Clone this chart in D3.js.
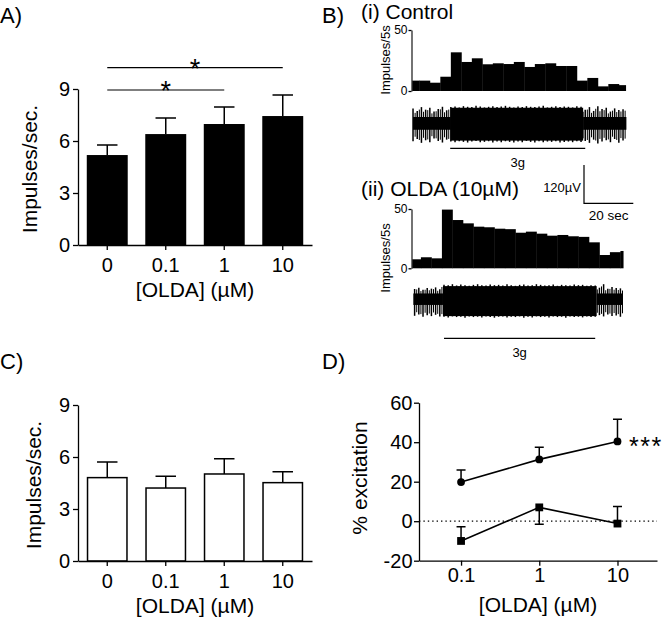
<!DOCTYPE html>
<html><head><meta charset="utf-8">
<script src="https://cdn.jsdelivr.net/npm/d3@7"></script>
<style>body{margin:0;background:#fff}</style>
</head><body>
<svg id="c" width="664" height="620"></svg>
<script>
// ---------------- DATA ----------------
const doseLabels = ["0", "0.1", "1", "10"];
const barTicks = [0, 3, 6, 9];
const panelAMeans = [5.19, 6.4, 6.98, 7.44];
const panelASem = [0.58, 0.93, 0.98, 1.21];
const panelCMeans = [4.81, 4.21, 5.02, 4.52];
const panelCSem = [0.9, 0.68, 0.88, 0.63];
const sigPairs = [["0", "1"], ["0", "10"]];

const dDoses = [0.1, 1, 10];
const dDoseLabels = ["0.1", "1", "10"];
const dTicks = [-20, 0, 20, 40, 60];
const circleMeans = [19.8, 31.3, 40.4];
const circleSem = [6.1, 6.1, 11.2];
const squareMeans = [-10, 7, -1.2];
const squareSem = [7.2, 8.5, 8.6];
const squareErrDir = [1, -1, 1];

const histTicks = [0, 50];
// impulses per 5 s bin (first bin partially shown)
const controlCounts = [8.5, 8.5, 6.8, 11.7, 31.7, 23.8, 26.8, 21.9, 22.7, 22.1, 23.8, 19.7, 22.1, 22.7, 20.5, 20.5, 8.5, 10.7, 3.8, 5.7, 4.8];
const oldaCounts = [7.6, 9.3, 8.4, 49.5, 40.7, 37.9, 35.1, 34.6, 33.4, 33.0, 30.0, 30.9, 29.2, 27.5, 28.1, 27.0, 26.5, 21.9, 11.2, 13.6, 14.6];

// raw trace envelopes (µV), sampled every 2 s
const controlTraceStart = 2;
const controlTraceMax = [48, 40, 52, 44, 50, 38, 46, 53, 42,
  52, 54, 51, 55, 53, 52, 56, 54, 51, 53, 55, 52, 54, 56, 53, 51, 54, 52, 55, 53, 52, 54, 56, 51, 53, 55, 52, 54, 53, 51, 55, 53,
  44, 52, 40, 55, 46, 50, 38, 48, 43, 45];
const controlTraceMin = [55, 48, 60, 52, 58, 46, 54, 59, 50,
  56, 58, 55, 57, 59, 56, 54, 58, 57, 55, 59, 56, 58, 55, 57, 59, 56, 58, 54, 57, 59, 55, 58, 56, 57, 55, 59, 57, 56, 58, 55, 57,
  54, 60, 50, 62, 56, 52, 58, 48, 60, 53];
const controlCore = [[2, 20, 21, 19], [20, 83, 50, 53], [83, 103.6, 21, 19]];
const controlStim = [19.7, 84];

const oldaTraceStart = 2;
const oldaTraceMax = [32, 36, 30, 35, 33, 37, 31,
  45, 44, 47, 43, 46, 44, 42, 45, 47, 44, 43, 46, 44, 45, 43, 47, 44, 42, 45, 46, 43, 44, 47, 45, 43, 44, 46, 42, 45, 44, 43, 46, 44, 45, 42, 44, 43,
  36, 47, 33, 38, 35, 34];
const oldaTraceMin = [52, 48, 55, 50, 53, 49, 54,
  55, 57, 54, 56, 55, 58, 54, 56, 55, 57, 54, 56, 58, 55, 54, 57, 55, 56, 54, 58, 55, 57, 54, 56, 55, 57, 54, 56, 55, 58, 54, 56, 55, 57, 54, 56, 55,
  50, 54, 48, 53, 51, 55];
const oldaCore = [[1.4, 15.5, 18, 18], [15.5, 88.7, 41, 53], [88.7, 101, 18, 18]];
const oldaStim = [16, 88];

const scaleBarUV = 120, scaleBarSec = 20;

// ---------------- DRAWING ----------------
const FONT = '"Liberation Sans", Arial, Helvetica, sans-serif';
const svg = d3.select("#c").attr("font-family", FONT);

function styleAxis(g, fs) {
  g.attr("font-family", FONT);
  g.select(".domain").attr("stroke", "#000").attr("stroke-width", 1.3);
  g.selectAll(".tick line").attr("stroke", "#000").attr("stroke-width", 1.3);
  g.selectAll(".tick text").attr("fill", "#000").attr("font-size", fs);
}
function txt(x, y, s, fs, anchor, rot) {
  const t = svg.append("text").attr("x", x).attr("y", y).text(s)
    .attr("font-size", fs).attr("fill", "#000").attr("text-anchor", anchor || "start");
  if (rot) t.attr("transform", `rotate(${rot},${x},${y})`);
  return t;
}

// panel letters
txt(0, 23, "A)", 22);
txt(322, 23, "B)", 22);
txt(0, 369, "C)", 22);
txt(322, 369, "D)", 22);

function barPanel(top, means, sem, fill, ylabX) {
  const x = d3.scaleBand().domain(doseLabels).range([78, 312]).paddingInner(0.3).paddingOuter(0.15);
  const y = d3.scaleLinear().domain([0, 9]).range([top + 156, top]);
  const g = svg.append("g");
  const data = doseLabels.map((d, i) => ({ d, m: means[i], s: sem[i] }));
  g.selectAll("path.err").data(data).join("path").attr("class", "err")
    .attr("d", p => {
      const cx = x(p.d) + x.bandwidth() / 2, hw = x.bandwidth() / 4;
      return `M${cx},${y(p.m)}V${y(p.m + p.s)}M${cx - hw},${y(p.m + p.s)}H${cx + hw}`;
    })
    .attr("stroke", "#000").attr("stroke-width", 1.5).attr("fill", "none");
  g.selectAll("rect").data(data).join("rect")
    .attr("x", p => x(p.d) + (fill === "#fff" ? 0.75 : 0))
    .attr("width", x.bandwidth() - (fill === "#fff" ? 1.5 : 0))
    .attr("y", p => y(p.m)).attr("height", p => y(0) - y(p.m))
    .attr("fill", fill).attr("stroke", "#000").attr("stroke-width", fill === "#fff" ? 1.5 : 0);
  const ax = g.append("g").attr("transform", `translate(0,${y(0)})`)
    .call(d3.axisBottom(x).tickSize(5).tickSizeOuter(0).tickPadding(7.8));
  styleAxis(ax, 20);
  const ay = g.append("g").attr("transform", `translate(78,0)`)
    .call(d3.axisLeft(y).tickValues(barTicks).tickSize(5).tickSizeOuter(0).tickPadding(3));
  styleAxis(ay, 20);
  txt(195, y(0) + 52, "[OLDA] (µM)", 21, "middle");
  txt(ylabX, (y(0) + y(9)) / 2 + 2, "Impulses/sec.", 21, "middle", -90);
  return { x, y, g };
}

const A = barPanel(89, panelAMeans, panelASem, "#000", 37);
sigPairs.forEach((pr, k) => {
  const x1 = A.x(pr[0]) + A.x.bandwidth() / 2, x2 = A.x(pr[1]) + A.x.bandwidth() / 2;
  const ly = A.y(9) + 1 - k * 22.3;
  svg.append("line").attr("x1", x1).attr("x2", x2).attr("y1", ly).attr("y2", ly)
    .attr("stroke", "#000").attr("stroke-width", 1.2);
  txt((x1 + x2) / 2, ly + 10, "*", 27, "middle");
});

barPanel(405, panelCMeans, panelCSem, "#fff", 41);

// ---------- Panel B ----------
function histPanel(counts, d0, d1, yBase, yTop, label, labelY, title, titleY) {
  const x = d3.scaleLinear().domain([d0, d1]).range([412.3, 412.3 + (d1 - d0) * 10.5]);
  const y = d3.scaleLinear().domain([0, 50]).range([yBase, yTop]);
  const g = svg.append("g");
  g.selectAll("rect").data(counts).join("rect")
    .attr("x", (c, i) => x(Math.max(i, d0)))
    .attr("width", (c, i) => x(Math.min(i + 1, d1)) - x(Math.max(i, d0)) + 0.4)
    .attr("y", c => y(c)).attr("height", c => y(0) - y(c))
    .attr("fill", "#000");
  const ay = g.append("g").attr("transform", `translate(411.5,0)`)
    .call(d3.axisLeft(y).tickValues(histTicks).tickSize(3).tickSizeOuter(0).tickPadding(1));
  styleAxis(ay, 12);
  ay.select(".domain").attr("stroke-width", 1.1);
  txt(390, labelY, label, 13, "middle", -90);
  txt(361, titleY, title, 21);
  return x;
}
function tracePanel(xBin, start, maxArr, minArr, core, center, stim, stimY) {
  const amp = d3.scaleLinear().domain([0, scaleBarUV]).range([0, 38.3]);
  const xt = t => xBin(t / 5);
  const g = svg.append("g");
  g.selectAll("rect").data(core).join("rect")
    .attr("x", c => xt(c[0])).attr("width", c => xt(c[1]) - xt(c[0]))
    .attr("y", c => center - amp(c[2])).attr("height", c => amp(c[2]) + amp(c[3]))
    .attr("fill", "#000");
  g.selectAll("line.sp").data(maxArr).join("line").attr("class", "sp")
    .attr("x1", (v, i) => xt(start + 2 * i)).attr("x2", (v, i) => xt(start + 2 * i))
    .attr("y1", v => center - amp(v)).attr("y2", (v, i) => center + amp(minArr[i]))
    .attr("stroke", "#000").attr("stroke-width", 1.5);
  g.selectAll("line.sp2").data(maxArr).join("line").attr("class", "sp2")
    .attr("x1", (v, i) => xt(start + 2 * i + 1)).attr("x2", (v, i) => xt(start + 2 * i + 1))
    .attr("y1", (v, i) => center - amp(0.85 * maxArr[(i + 1) % maxArr.length]))
    .attr("y2", (v, i) => center + amp(0.85 * minArr[(i + 1) % minArr.length]))
    .attr("stroke", "#000").attr("stroke-width", 1)
    .filter((v, i) => start + 2 * i + 1 > core[core.length - 1][1]).remove();
  svg.append("line").attr("x1", xt(stim[0])).attr("x2", xt(stim[1]))
    .attr("y1", stimY).attr("y2", stimY).attr("stroke", "#000").attr("stroke-width", 1.2);
  txt((xt(stim[0]) + xt(stim[1])) / 2, stimY + 19, "3g", 13, "middle");
}

const xCtrl = histPanel(controlCounts, 0.33, 20.65, 91, 30, "Impulses/5s", 60, "(i) Control", 18.5);
tracePanel(xCtrl, controlTraceStart, controlTraceMax, controlTraceMin, controlCore, 123.7, controlStim, 148.3);
const xOlda = histPanel(oldaCounts, 0.18, 20.26, 268.3, 209, "Impulses/5s", 258, "(ii) OLDA (10µM)", 196);
tracePanel(xOlda, oldaTraceStart, oldaTraceMax, oldaTraceMin, oldaCore, 299.2, oldaStim, 338.3);

// scale bar
const sbV = d3.scaleLinear().domain([0, scaleBarUV]).range([0, 38.3]);
const sbT = d3.scaleLinear().domain([0, scaleBarSec]).range([0, 49.3]);
svg.append("path")
  .attr("d", `M584,${203.3 - sbV(scaleBarUV)}V203.3H${584 + sbT(scaleBarSec)}`)
  .attr("stroke", "#000").attr("stroke-width", 1.2).attr("fill", "none");
txt(581, 191.5, scaleBarUV + "µV", 13, "end");
txt(584 + sbT(scaleBarSec) / 2, 220, scaleBarSec + " sec", 13.5, "middle");

// ---------- Panel D ----------
{
  const x = d3.scaleLog().domain([0.029, 32]).range([419, 657]);
  const y = d3.scaleLinear().domain([-20, 60]).range([560.7, 402.7]);
  const g = svg.append("g");
  g.append("line").attr("x1", 419).attr("x2", 657).attr("y1", y(0)).attr("y2", y(0))
    .attr("stroke", "#000").attr("stroke-width", 1.3).attr("stroke-dasharray", "1.4,3");
  const line = d3.line().x((d, i) => x(dDoses[i])).y(d => y(d));
  [circleMeans, squareMeans].forEach(arr => {
    g.append("path").attr("d", line(arr)).attr("fill", "none").attr("stroke", "#000").attr("stroke-width", 1.6);
  });
  const errPath = (xi, m, e) => `M${xi},${y(m)}V${y(m + e)}M${xi - 4.5},${y(m + e)}H${xi + 4.5}`;
  g.selectAll("path.ce").data(circleMeans).join("path").attr("class", "ce")
    .attr("d", (m, i) => errPath(x(dDoses[i]), m, circleSem[i]))
    .attr("stroke", "#000").attr("stroke-width", 1.5).attr("fill", "none");
  g.selectAll("path.se").data(squareMeans).join("path").attr("class", "se")
    .attr("d", (m, i) => errPath(x(dDoses[i]), m, squareSem[i] * squareErrDir[i]))
    .attr("stroke", "#000").attr("stroke-width", 1.5).attr("fill", "none");
  g.selectAll("circle").data(circleMeans).join("circle")
    .attr("cx", (m, i) => x(dDoses[i])).attr("cy", m => y(m)).attr("r", 3.9).attr("fill", "#000");
  g.selectAll("rect").data(squareMeans).join("rect")
    .attr("x", (m, i) => x(dDoses[i]) - 3.9).attr("y", m => y(m) - 3.9)
    .attr("width", 7.8).attr("height", 7.8).attr("fill", "#000");
  const ax = g.append("g").attr("transform", `translate(0,${y(-20)})`)
    .call(d3.axisBottom(x).tickValues(dDoses).tickFormat((d, i) => dDoseLabels[i]).tickSize(5).tickSizeOuter(0).tickPadding(2.4));
  styleAxis(ax, 20);
  const ay = g.append("g").attr("transform", `translate(419,0)`)
    .call(d3.axisLeft(y).tickValues(dTicks).tickFormat(d => String(d)).tickSize(5).tickSizeOuter(0).tickPadding(1.5));
  styleAxis(ay, 20);
  txt(538, 611.7, "[OLDA] (µM)", 21, "middle");
  txt(367, 478, "% excitation", 21, "middle", -90);
  txt(629, y(circleMeans[2]) + 14, "***", 25).attr("letter-spacing", 1.5);
}
</script>
</body></html>
